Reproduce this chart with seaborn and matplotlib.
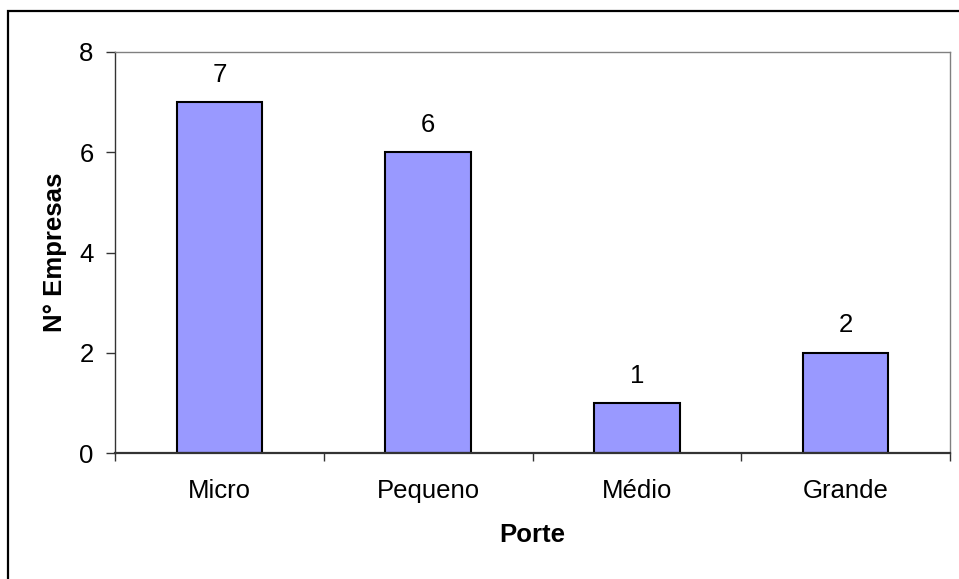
import matplotlib.pyplot as plt
import matplotlib.patches as patches
import seaborn as sns
import pandas as pd

categorias = ['Micro', 'Pequeno', 'Médio', 'Grande']
empresas = [7, 6, 1, 2]

sns.set_theme(style='white')
plt.rcParams['font.family'] = ['Liberation Sans', 'DejaVu Sans']
plt.rcParams['text.color'] = 'black'
plt.rcParams['axes.labelcolor'] = 'black'
plt.rcParams['xtick.color'] = 'black'
plt.rcParams['ytick.color'] = 'black'

df = pd.DataFrame({'Porte': categorias, 'N° Empresas': empresas})

fig = plt.figure(figsize=(9.59, 5.79), dpi=100)
ax = fig.add_axes([0.12, 0.2176, 0.8706, 0.6926])

sns.barplot(data=df, x='Porte', y='N° Empresas', color='#9999FF',
            edgecolor='black', linewidth=1.5, width=0.41, saturation=1, ax=ax)

fs = 18.5
for c in ax.containers:
    ax.bar_label(c, fontsize=fs, padding=11, color='black')

ax.set_xlim(-0.5, 3.5)
ax.set_ylim(0, 8)
ax.set_yticks([0, 2, 4, 6, 8])
ax.tick_params(axis='y', labelsize=fs, length=6.5, width=1, color='#333333',
               labelcolor='black', direction='out', left=True, pad=9)
ax.set_xticks([-0.5, 0.5, 1.5, 2.5, 3.5], minor=True)
ax.tick_params(axis='x', which='major', length=0, labelsize=fs,
               labelcolor='black', pad=19)
ax.tick_params(axis='x', which='minor', length=6, width=1, color='#333333',
               direction='out', bottom=True)

ax.set_xlabel('Porte', fontsize=fs, fontweight='bold', labelpad=14)
ax.set_ylabel('N° Empresas', fontsize=fs, fontweight='bold', labelpad=9)

for s in ['top', 'right']:
    ax.spines[s].set_color('#808080')
    ax.spines[s].set_linewidth(1)
ax.spines['left'].set_color('#333333')
ax.spines['left'].set_linewidth(1)
ax.spines['bottom'].set_color('#333333')
ax.spines['bottom'].set_linewidth(1.6)

fig.patches.append(patches.Rectangle((8 / 959, -0.1), 1.2, (579 - 11) / 579 + 0.1,
                                     transform=fig.transFigure, fill=False,
                                     edgecolor='black', linewidth=1.6))

fig.savefig('out.png', dpi=100)
